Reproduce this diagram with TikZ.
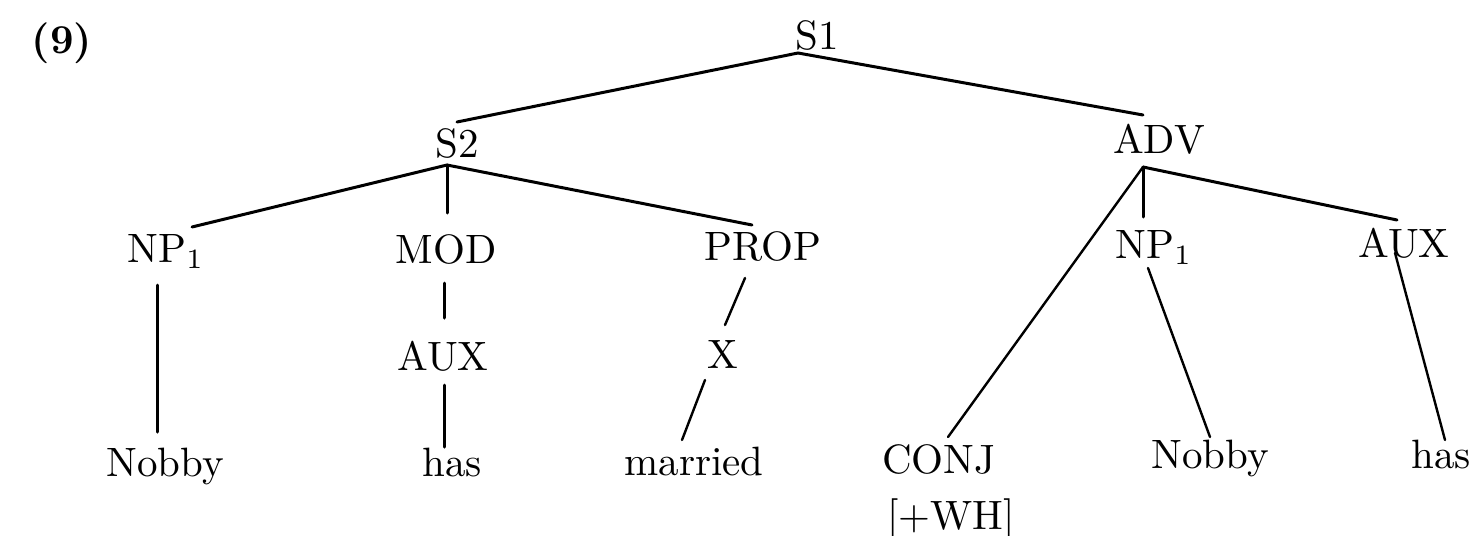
\documentclass[tikz,border=0pt]{standalone}
\usepackage{fontspec}
\usetikzlibrary{calc}
\begin{document}
\begin{tikzpicture}[x=0.25pt,y=-0.25pt,
  every node/.style={font=\fontsize{10.25}{12}\selectfont, inner sep=0pt, anchor=base},
  branch/.style={line width=0.75pt, line cap=round},
  thin branch/.style={line width=0.6pt, line cap=round}]
\useasboundingbox (0,0) rectangle (1475,535);
% labels
\node (ex) at (62,53) {\textbf{(9)}};
\node (S1) at (817,50) {S1};
\node (S2) at (457,157) {S2};
\node (ADV) at (1159,153) {ADV};
\node (NPl) at (166,262) {NP$_1$};
\node (MOD) at (446,263) {MOD};
\node (PROP) at (763,260) {PROP};
\node (NPr) at (1154,258) {NP$_1$};
\node (AUXr) at (1404,257) {AUX};
\node (AUXl) at (443,370) {AUX};
\node (X) at (723,368) {X};
\node (Nobbyl) at (165,476) {Nobby};
\node (hasl) at (452,476) {has};
\node (married) at (694,475) {married};
\node (CONJ) at (939,473) {CONJ};
\node (WH) at (951,529) {[+WH]};
\node (Nobbyr) at (1210,468) {Nobby};
\node (hasr) at (1441,468) {has};
% branches
\draw[branch] ($(S1.base)+(-19,3)$) -- ($(S2.base)+(0,-35)$);
\draw[branch] ($(S1.base)+(-19,3)$) -- ($(ADV.base)+(-16,-38)$);
\draw[branch] ($(S2.base)+(-10,8)$) -- ($(NPl.base)+(26,-35)$);
\draw[branch] ($(S2.base)+(-10,8)$) -- ($(MOD.base)+(1,-50)$);
\draw[branch] ($(S2.base)+(-10,8)$) -- ($(PROP.base)+(-11,-35)$);
\draw[branch] ($(NPl.base)+(-9,23)$) -- ($(Nobbyl.base)+(-8,-44)$);
\draw[branch] ($(MOD.base)+(-2,20)$) -- ($(AUXl.base)+(1,-52)$);
\draw[branch] ($(AUXl.base)+(1,15)$) -- ($(hasl.base)+(-8,-29)$);
\draw[thin branch] ($(PROP.base)+(-18,18)$) -- ($(X.base)+(2,-43)$);
\draw[thin branch] ($(X.base)+(-18,12)$) -- ($(married.base)+(-12,-35)$);
\draw[thin branch] ($(ADV.base)+(-16,14)$) -- ($(CONJ.base)+(9,-36)$);
\draw[branch] ($(ADV.base)+(-16,14)$) -- ($(NPr.base)+(-11,-41)$);
\draw[branch] ($(ADV.base)+(-16,14)$) -- ($(AUXr.base)+(-7,-37)$);
\draw[thin branch] ($(NPr.base)+(-6,10)$) -- ($(Nobbyr.base)+(0,-31)$);
\draw[thin branch] ($(AUXr.base)+(-9,-4)$) -- ($(hasr.base)+(4,-28)$);
\end{tikzpicture}
\end{document}
